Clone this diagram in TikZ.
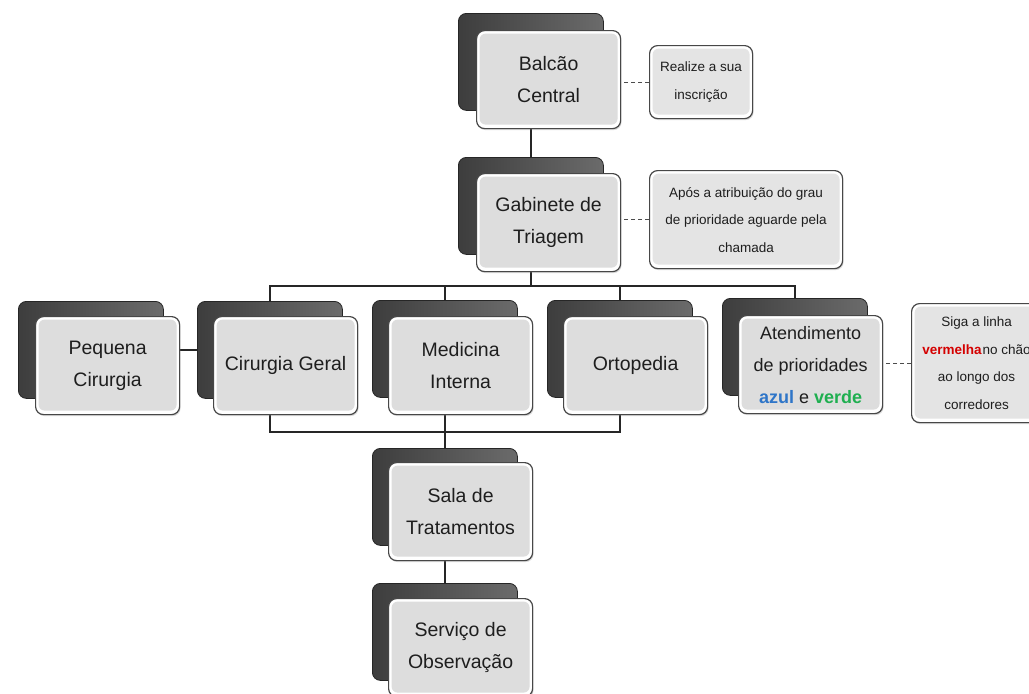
\documentclass[tikz,border=0pt]{standalone}
\usepackage{fontspec}
\setmainfont{Liberation Sans}
\usetikzlibrary{shadows,calc}
\pgfdeclarelayer{background}
\pgfsetlayers{background,main}
\definecolor{txt}{HTML}{1E1E1E}
\definecolor{boxfill}{HTML}{DDDDDD}
\definecolor{notefill}{HTML}{E4E4E4}
\definecolor{azulc}{HTML}{2E75C8}
\definecolor{verdec}{HTML}{1FAF50}
\definecolor{vermc}{HTML}{D40000}
\tikzset{
  backbox/.style={anchor=north west, minimum width=145pt, minimum height=97pt,
    rounded corners=8pt, draw=black!85, line width=0.8pt,
    left color=black!76, right color=black!58, inner sep=0pt},
  frontbox/.style={anchor=north west, minimum width=144pt, minimum height=98pt,
    rounded corners=8pt, draw=black!72, line width=1.2pt, fill=white, inner sep=0pt,
    text=txt, align=center, font=\fontsize{19.5}{32}\selectfont,
    drop shadow={opacity=0.3, shadow xshift=1pt, shadow yshift=-1.5pt},
    path picture={\fill[boxfill, rounded corners=6pt]
      ($(path picture bounding box.south west)+(3pt,4pt)$) rectangle
      ($(path picture bounding box.north east)+(-3pt,-3pt)$);}},
  notebox/.style={anchor=north west, rounded corners=8pt, draw=black!72,
    line width=1.2pt, fill=white, inner sep=0pt, text=txt, align=center,
    font=\fontsize{13.5}{27.5}\selectfont,
    drop shadow={opacity=0.3, shadow xshift=1pt, shadow yshift=-1.5pt},
    path picture={\fill[notefill, rounded corners=6pt]
      ($(path picture bounding box.south west)+(3pt,4pt)$) rectangle
      ($(path picture bounding box.north east)+(-3pt,-3pt)$);}},
  link/.style={line width=1.8pt, black!85},
  dlink/.style={dash pattern=on 4pt off 3pt, line width=1.2pt, black!70}
}
\begin{document}
\begin{tikzpicture}[x=1pt, y=-1pt]
\clip (0,0) rectangle (1029,694);
% Balcao
\node[backbox] (bcB) at (458,13) {};
\node[frontbox] (bc) at (476,30) {Balcão\\Central};
% Gabinete
\node[backbox] (gtB) at (458,157) {};
\node[frontbox] (gt) at (476,173) {Gabinete de\\Triagem};
% row
\node[backbox] (pcB) at (18,301) {};
\node[frontbox] (pc) at (35,316) {Pequena\\Cirurgia};
\node[backbox] (cgB) at (197,301) {};
\node[frontbox] (cg) at (213,316) {Cirurgia Geral};
\node[backbox] (miB) at (372,300) {};
\node[frontbox] (mi) at (388,316) {Medicina\\Interna};
\node[backbox] (orB) at (547,300) {};
\node[frontbox] (or) at (563,316) {Ortopedia};
\node[backbox] (atB) at (722,298) {};
\node[frontbox, font=\fontsize{18}{32}\selectfont] (at) at (738,315)
  {Atendimento\\de prioridades\\{\bfseries\color{azulc}azul} e {\bfseries\color{verdec}verde}};
% lower
\node[backbox] (stB) at (372,448) {};
\node[frontbox] (st) at (388,462) {Sala de\\Tratamentos};
\node[backbox] (soB) at (372,583) {};
\node[frontbox] (so) at (388,598) {Serviço de\\Observação};
% notes
\node[notebox, minimum width=103pt, minimum height=73pt] (n1) at (649,45)
  {Realize a sua\\inscrição};
\node[notebox, minimum width=193pt, minimum height=98pt] (n2) at (649,170)
  {Após a atribuição do grau\\de prioridade aguarde pela\\chamada};
\node[notebox, minimum width=130pt, minimum height=119pt] (n3) at (911,303)
  {Siga a linha\\{\bfseries\color{vermc}vermelha}\kern1pt no chão\\ao longo dos\\corredores};
\coordinate (busY) at (0,286);
\coordinate (lowY) at (0,432);
\begin{pgfonlayer}{background}
\draw[link] (bcB.center) -- (gtB.center);
\draw[link] (gtB.center) -- (gtB.center |- busY);
\draw[link] (cgB.center) |- (busY -| atB.center) -- (atB.center);
\draw[link] (miB.center) -- (miB.center |- busY);
\draw[link] (orB.center) -- (orB.center |- busY);
\draw[link] (cgB.center) |- (lowY -| orB.center) -- (orB.center);
\draw[link] (miB.center) -- (stB.center) -- (soB.center);
\draw[link] (pcB.center) -- (cgB.center);
\draw[dlink] (n1.west) -- (n1.west -| bc.center);
\draw[dlink] (n2.west) -- (n2.west -| gt.center);
\draw[dlink] (n3.west) -- (n3.west -| at.center);
\end{pgfonlayer}
\end{tikzpicture}
\end{document}
